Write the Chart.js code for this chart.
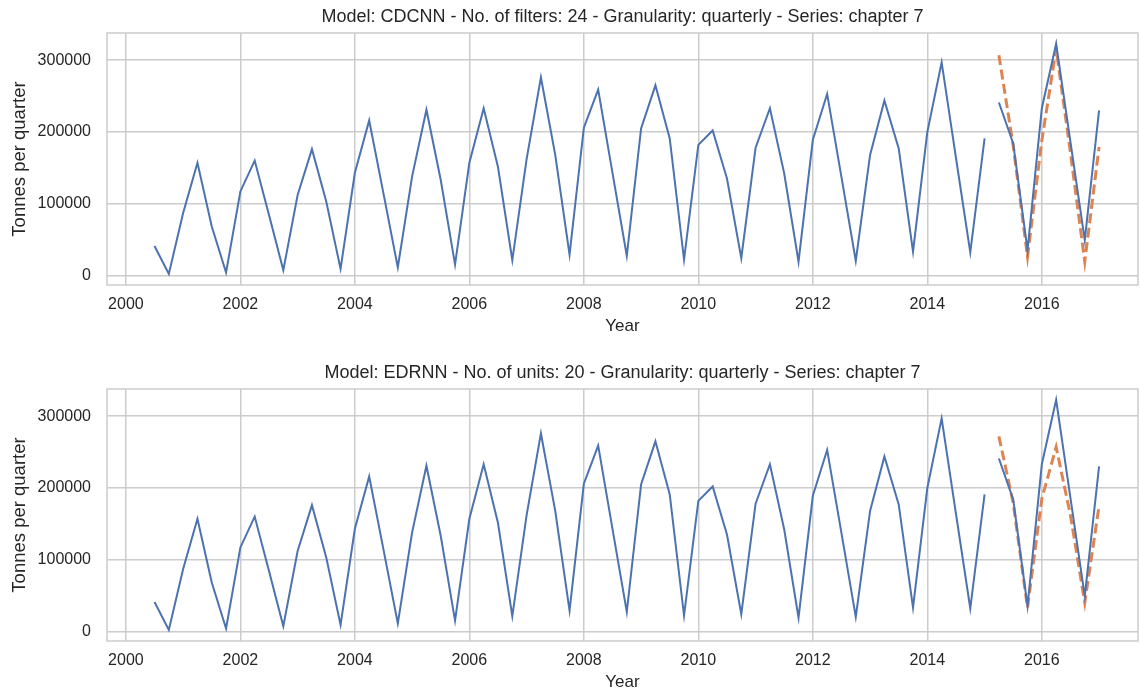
<!DOCTYPE html>
<html>
<head>
<meta charset="utf-8">
<script src="https://cdn.jsdelivr.net/npm/chart.js@4.4.1/dist/chart.umd.min.js"></script>
<style>
  html, body { margin: 0; padding: 0; background: #fff; overflow: hidden; }
  canvas { position: absolute; left: 0; }
  #top { top: 0; }
  #bottom { top: 356px; }
</style>
</head>
<body>
<canvas id="top" width="1140" height="338"></canvas>
<canvas id="bottom" width="1140" height="338"></canvas>
<script>
// quarterly series, first quarter of training set and of test set
var trainStart = 2000.5;
var testStart = 2015.25;

var train = [41000, 2000,
  87000, 157000, 68000, 4000,
  117000, 160000, 84000, 7000,
  112000, 176000, 103000, 9000,
  143000, 216000, 114000, 11000,
  138000, 231000, 133000, 15000,
  157000, 233000, 151000, 21000,
  162000, 276000, 168000, 29000,
  206000, 259000, 143000, 27000,
  205000, 265000, 191000, 22000,
  182000, 202000, 135000, 24000,
  178000, 233000, 142000, 19000,
  189000, 253000, 137000, 20000,
  168000, 244000, 177000, 33000,
  200000, 297000, 164000, 32000,
  191000];
var test = [241000, 184000, 35000, 233000, 323000, 186000, 49000, 230000];
var predCdcnn = [307000, 181000, 26000, 188000, 316000, 171000, 19000, 179000];
var predEdrnn = [272000, 179000, 33000, 185000, 257000, 162000, 40000, 175000];

var yearTicks = [2000, 2002, 2004, 2006, 2008, 2010, 2012, 2014, 2016];
var valueTicks = [0, 100000, 200000, 300000];

var FONT = '"Liberation Sans", Arial, sans-serif';
var TEXT = '#262626';
var GRID = '#cccccc';
var BLUE = '#4c72b0';
var ORANGE = '#dd8452';

function toPoints(values, start) {
  return values.map(function (v, i) { return { x: start + i * 0.25, y: v }; });
}

var frame = {
  id: 'frame',
  beforeDatasetsDraw: function (chart) {
    var a = chart.chartArea, ctx = chart.ctx;
    ctx.save();
    ctx.strokeStyle = GRID;
    ctx.lineWidth = 1.5;
    ctx.strokeRect(a.left, a.top, a.right - a.left, a.bottom - a.top);
    ctx.restore();
  }
};

function makeChart(id, title, pred) {
  return new Chart(document.getElementById(id), {
    type: 'line',
    data: {
      datasets: [
        { data: toPoints(train, trainStart), borderColor: BLUE, borderWidth: 2, pointRadius: 0, tension: 0 },
        { data: toPoints(test, testStart), borderColor: BLUE, borderWidth: 2, pointRadius: 0, tension: 0 },
        { data: toPoints(pred, testStart), borderColor: ORANGE, borderWidth: 3, borderDash: [10, 4.5], pointRadius: 0, tension: 0 }
      ]
    },
    options: {
      responsive: false,
      animation: false,
      events: [],
      layout: { padding: { left: 0, right: 2, top: 0, bottom: 0 } },
      plugins: {
        legend: { display: false },
        tooltip: { enabled: false },
        title: {
          display: true, text: title, color: TEXT, fullSize: false,
          font: { family: FONT, size: 18, weight: 'normal' },
          padding: { top: 6, bottom: 5.4 }
        }
      },
      scales: {
        x: {
          type: 'linear', min: 1999.67, max: 2017.68,
          afterBuildTicks: function (s) { s.ticks = yearTicks.map(function (v) { return { value: v }; }); },
          afterFit: function (s) { s.height = 53; },
          grid: { color: GRID, lineWidth: 1.5, drawTicks: false },
          border: { display: false },
          ticks: {
            padding: 10, color: TEXT, maxRotation: 0, autoSkip: false,
            font: { family: FONT, size: 16 },
            callback: function (v) { return String(v); }
          },
          title: {
            display: true, text: 'Year', color: TEXT,
            font: { family: FONT, size: 17 },
            padding: { top: 0, bottom: 1 }
          }
        },
        y: {
          min: -13500, max: 338000,
          afterBuildTicks: function (s) { s.ticks = valueTicks.map(function (v) { return { value: v }; }); },
          afterFit: function (s) { s.width = 107; },
          grid: { color: GRID, lineWidth: 1.5, drawTicks: false },
          border: { display: false },
          ticks: {
            padding: 16, color: TEXT,
            font: { family: FONT, size: 16 },
            callback: function (v) { return String(v); }
          },
          title: {
            display: true, text: 'Tonnes per quarter', color: TEXT,
            font: { family: FONT, size: 18.5 },
            padding: { top: 9, bottom: 0 }
          }
        }
      }
    },
    plugins: [frame]
  });
}

makeChart('top', 'Model: CDCNN - No. of filters: 24 - Granularity: quarterly - Series: chapter 7', predCdcnn);
makeChart('bottom', 'Model: EDRNN - No. of units: 20 - Granularity: quarterly - Series: chapter 7', predEdrnn);
</script>
</body>
</html>
